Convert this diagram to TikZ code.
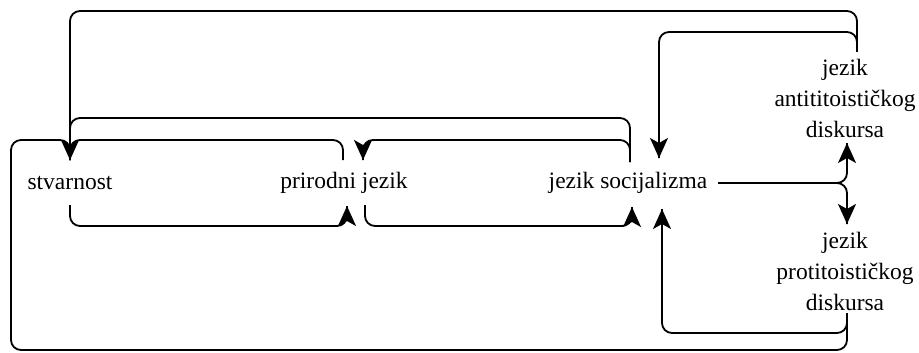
\documentclass[tikz,border=0pt]{standalone}
\usepackage{fontspec}
\setmainfont{Liberation Serif}
\usetikzlibrary{arrows.meta}
\begin{document}
\begin{tikzpicture}[x=1pt,y=-1pt,
  lbl/.style={inner sep=0pt,align=center,font=\fontsize{23.5}{31}\selectfont},
  conn/.style={line width=1.8pt,rounded corners=10pt},
  tip/.style={line width=1.8pt,-{Stealth[length=20pt,width=18pt,inset=5pt]}}]
\useasboundingbox (0,0) rectangle (919,353);
% nodes
\node[lbl] (stv) at (70,183) {stvarnost};
\node[lbl] (pri) at (344,183) {prirodni jezik};
\node[lbl] (soc) at (628,183) {jezik socijalizma};
\node[lbl] (anti) at (845,98) {jezik\\antititoističkog\\diskursa};
\node[lbl] (proti) at (845,271) {jezik\\protitoističkog\\diskursa};
% ports
\coordinate (stvT) at (70,160);
\coordinate (stvB) at (70,205);
\coordinate (priTL) at (343,160);
\coordinate (priTR) at (363,160);
\coordinate (priBL) at (347,206);
\coordinate (priBR) at (365,205);
\coordinate (socT) at (630,162);
\coordinate (socTR) at (659,158);
\coordinate (socB) at (632,207);
\coordinate (socBR) at (662,209);
\coordinate (socR) at (718,183);
\coordinate (antiT) at (857,52);
\coordinate (antiB) at (847,143);
\coordinate (protiT) at (847,224);
\coordinate (protiB) at (847,313);
% connectors
\draw[conn] (antiT) -- (antiT |- 0,11) -- (stvT |- 0,11) -- (stvT);
\draw[conn] (socT) -- (socT |- 0,118) -- (stvT |- 0,118) -- (stvT);
\draw[conn] (priTL) -- (priTL |- 0,140) -- (stvT |- 0,140) -- (stvT);
\draw[conn] (protiB) -- (protiB |- 0,350) -- (11,350) -- (11,140) -- (stvT |- 0,140) -- (stvT);
\draw[conn] (socT) -- (socT |- 0,140) -- (priTR |- 0,140) -- (priTR);
\draw[conn] (stvB) -- (stvB |- 0,226) -- (priBL |- 0,226) -- (priBL);
\draw[conn] (priBR) -- (priBR |- 0,226) -- (socB |- 0,226) -- (socB);
\draw[conn] (antiT) -- (antiT |- 0,32) -- (socTR |- 0,32) -- (socTR);
\draw[conn] (protiB) -- (protiB |- 0,333) -- (socBR |- 0,333) -- (socBR);
\draw[conn] (socR) -- (antiB |- socR) -- (antiB);
\draw[conn] (socR) -- (protiT |- socR) -- (protiT);
% arrow tips
\draw[tip] (stvT) ++(0,-12) -- (stvT);
\draw[tip] (priTR) ++(0,-12) -- (priTR);
\draw[tip] (priBL) ++(0,12) -- (priBL);
\draw[tip] (socB) ++(0,12) -- (socB);
\draw[tip] (socTR) ++(0,-12) -- (socTR);
\draw[tip] (socBR) ++(0,12) -- (socBR);
\draw[tip] (antiB) ++(0,12) -- (antiB);
\draw[tip] (protiT) ++(0,-12) -- (protiT);
\end{tikzpicture}
\end{document}
